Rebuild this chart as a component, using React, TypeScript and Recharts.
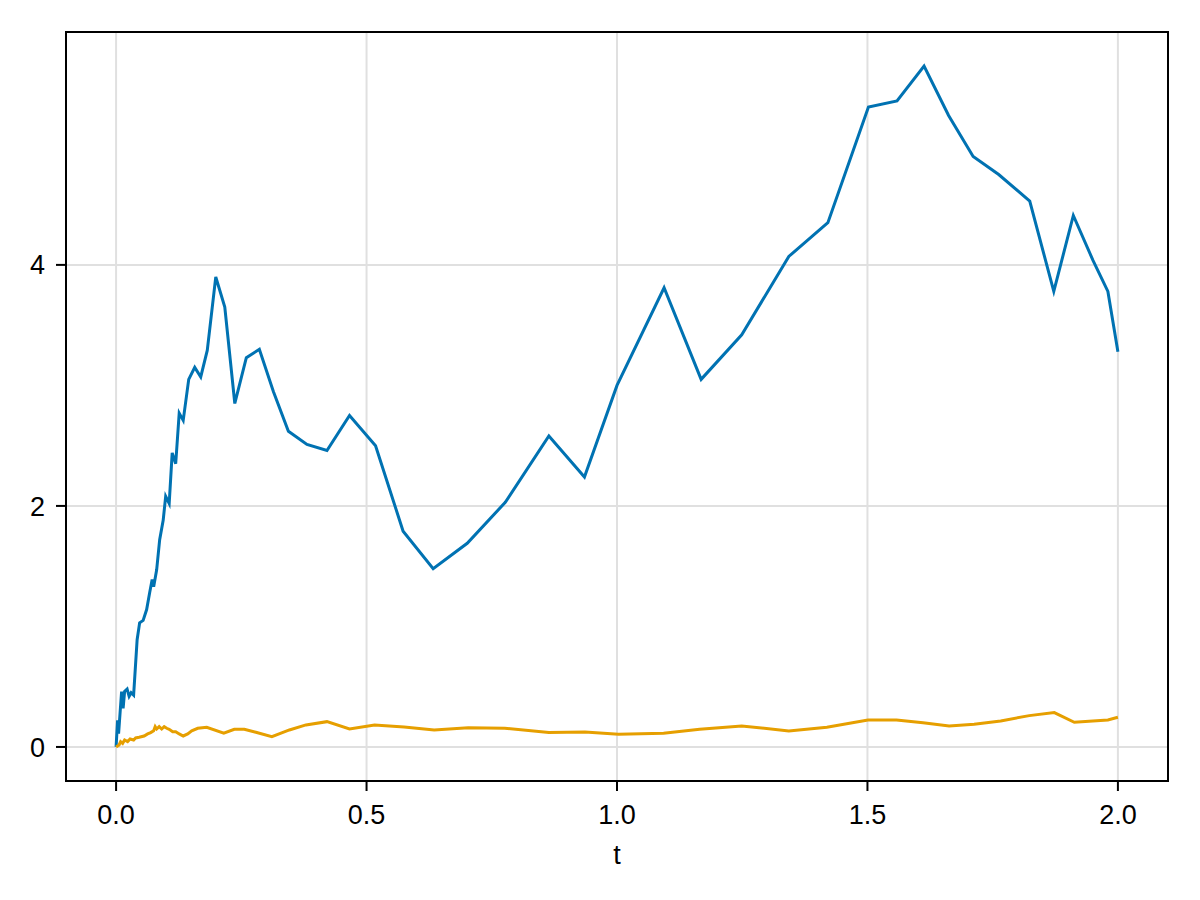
import { CartesianGrid, Line, LineChart, ReferenceArea, XAxis, YAxis } from "recharts";

// blue trajectory (time, value)
const tBlue = [
  0, 0.003, 0.005, 0.011, 0.014, 0.017, 0.022, 0.026, 0.03, 0.035, 0.042, 0.047, 0.054, 0.061,
  0.067, 0.072, 0.075, 0.081, 0.087, 0.094, 0.099, 0.106, 0.112, 0.119, 0.126, 0.134, 0.145,
  0.157, 0.169, 0.182, 0.199, 0.217, 0.237, 0.26, 0.286, 0.314, 0.344, 0.381, 0.421, 0.466,
  0.518, 0.573, 0.633, 0.701, 0.777, 0.864, 0.935, 1.0, 1.094, 1.168, 1.249, 1.343, 1.421,
  1.502, 1.559, 1.613, 1.662, 1.711, 1.762, 1.824, 1.872, 1.911, 1.95, 1.98, 2.0,
];
const vBlue = [
  0, 0.22, 0.11, 0.46, 0.32, 0.46, 0.48, 0.42, 0.45, 0.43, 0.89, 1.03, 1.05, 1.14, 1.28, 1.39,
  1.33, 1.47, 1.72, 1.88, 2.08, 2.02, 2.44, 2.35, 2.77, 2.71, 3.05, 3.15, 3.07, 3.29, 3.9, 3.65,
  2.85, 3.23, 3.3, 2.95, 2.62, 2.51, 2.46, 2.75, 2.5, 1.79, 1.48, 1.69, 2.03, 2.58, 2.24, 3.0,
  3.81, 3.05, 3.42, 4.07, 4.35, 5.31, 5.36, 5.65, 5.24, 4.9, 4.75, 4.53, 3.78, 4.41, 4.04, 3.78,
  3.28,
];

// orange trajectory (time, value)
const tOrange = [
  0, 0.006, 0.009, 0.013, 0.017, 0.023, 0.028, 0.035, 0.039, 0.046, 0.056, 0.063, 0.069, 0.075,
  0.078, 0.081, 0.086, 0.091, 0.096, 0.101, 0.106, 0.113, 0.119, 0.126, 0.134, 0.143, 0.151,
  0.163, 0.181, 0.215, 0.236, 0.256, 0.279, 0.311, 0.346, 0.379, 0.421, 0.466, 0.516, 0.575,
  0.635, 0.703, 0.776, 0.864, 0.936, 1.003, 1.093, 1.165, 1.249, 1.343, 1.419, 1.501, 1.558,
  1.611, 1.663, 1.713, 1.766, 1.823, 1.873, 1.913, 1.95, 1.98, 2.0,
];
const vOrange = [
  0, 0.017, 0.044, 0.03, 0.058, 0.044, 0.066, 0.058, 0.075, 0.08, 0.091, 0.108, 0.119, 0.135,
  0.169, 0.149, 0.169, 0.149, 0.169, 0.155, 0.147, 0.127, 0.127, 0.108, 0.091, 0.108, 0.133,
  0.155, 0.163, 0.114, 0.147, 0.147, 0.122, 0.086, 0.141, 0.183, 0.21, 0.149, 0.183, 0.165,
  0.141, 0.16, 0.155, 0.119, 0.124, 0.105, 0.114, 0.147, 0.174, 0.133, 0.163, 0.224, 0.224,
  0.2, 0.174, 0.188, 0.216, 0.26, 0.285, 0.205, 0.216, 0.224, 0.246,
];

const xTicks = [0, 0.5, 1.0, 1.5, 2.0];
const yTicks = [0, 2, 4];
const xDomain = [-0.1, 2.1];
const yDomain = [-0.2825, 5.9325];

const blueData = tBlue.map((t, i) => ({ t, v: vBlue[i] }));
const orangeData = tOrange.map((t, i) => ({ t, v: vOrange[i] }));

const FONT = "'Liberation Sans', Arial, Helvetica, sans-serif";
const tickStyle = { fill: "#000", fontSize: 27, fontFamily: FONT };
const spine = { stroke: "#000", strokeWidth: 2 };

export default function App() {
  return (
    <div style={{ position: "absolute", left: 0, top: 0, width: 1200, height: 900, background: "#fff" }}>
      <LineChart width={1200} height={900} margin={{ top: 32, right: 32, bottom: 29, left: 0 }}>
        <CartesianGrid stroke="#e0e0e0" strokeWidth={2} />
        <XAxis
          dataKey="t"
          type="number"
          domain={xDomain}
          allowDataOverflow
          ticks={xTicks}
          tickFormatter={(v) => Number(v).toFixed(1)}
          tick={tickStyle}
          tickSize={10}
          tickMargin={14}
          tickLine={spine}
          axisLine={spine}
          height={90}
          label={{ value: "t", position: "insideBottom", offset: 7, fill: "#000", fontSize: 27, fontFamily: FONT }}
        />
        <YAxis
          type="number"
          domain={yDomain}
          allowDataOverflow
          ticks={yTicks}
          tick={tickStyle}
          tickSize={10}
          tickMargin={11}
          tickLine={spine}
          axisLine={spine}
          width={66}
        />
        <Line
          data={blueData}
          dataKey="v"
          type="linear"
          stroke="#0072b2"
          strokeWidth={3}
          dot={false}
          activeDot={false}
          isAnimationActive={false}
        />
        <Line
          data={orangeData}
          dataKey="v"
          type="linear"
          stroke="#e69f00"
          strokeWidth={3}
          dot={false}
          activeDot={false}
          isAnimationActive={false}
        />
        {/* frame box around the plot area */}
        <ReferenceArea
          x1={xDomain[0]}
          x2={xDomain[1]}
          y1={yDomain[0]}
          y2={yDomain[1]}
          fill="none"
          stroke="#000"
          strokeWidth={2}
          ifOverflow="visible"
        />
      </LineChart>
    </div>
  );
}
